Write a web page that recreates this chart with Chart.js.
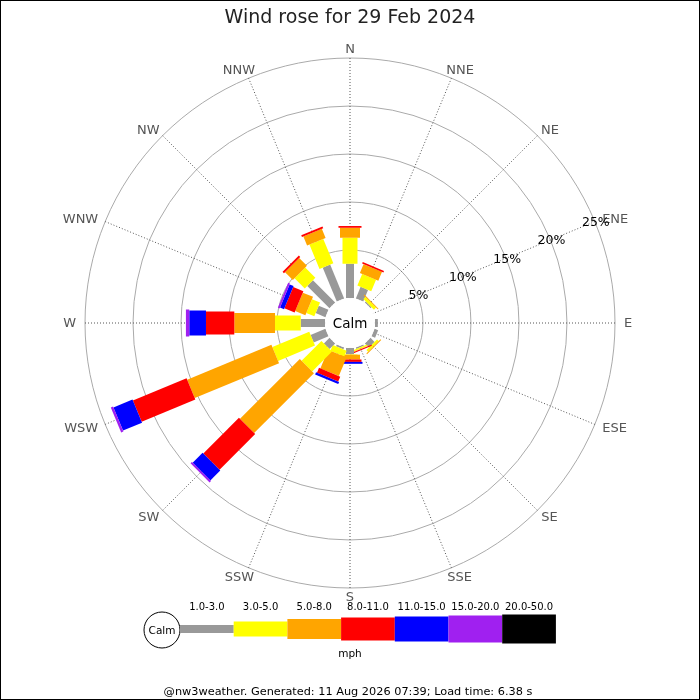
<!DOCTYPE html>
<html>
<head>
<meta charset="utf-8">
<title>Wind rose</title>
<script src="https://cdn.jsdelivr.net/npm/chart.js@4.4.1/dist/chart.umd.min.js"></script>
<style>
  body { margin: 0; background: #fff; }
  #wrap { width: 700px; height: 700px; }
</style>
</head>
<body>
<div id="wrap"><canvas id="rose" width="700" height="700"></canvas></div>
<script>
// directions, clockwise from north
var directions = ['N','NNE','NE','ENE','E','ESE','SE','SSE','S','SSW','SW','WSW','W','WNW','NW','NNW'];
var speedBands = ['1.0-3.0','3.0-5.0','5.0-8.0','8.0-11.0','11.0-15.0','15.0-20.0','20.0-50.0'];

// % of the day per direction, one array per speed band (mph)
var band1to3   = [3.57,1.30,0.15,0,0.30,0.40,0.60,0.15,0.65,0.20,0.83,1.67,2.53,1.10,3.28,3.81];
var band3to5   = [2.71,1.30,0.30,0,0,0,0.25,0.15,0.05,0.65,2.92,4.16,2.68,0.90,1.50,2.75];
var band5to8   = [1.04,1.00,0.10,0,0,0,0.10,0.05,0.50,2.10,8.81,9.50,4.24,1.15,1.15,1.02];
var band8to11  = [0.18,0.17,0,0,0,0,0,0.10,0.25,0.55,5.25,6.05,2.95,1.15,0.20,0.20];
var band11to15 = [0,0,0,0,0,0,0,0,0.20,0.25,1.47,2.15,1.74,0.45,0,0];
var band15to20 = [0,0,0,0,0,0,0,0,0,0,0.20,0.25,0.35,0.20,0,0];
var band20to50 = [0,0,0,0,0,0,0,0,0,0,0,0,0,0,0,0];

var ringTicks = [5,10,15,20,25];

// look
var bandColors = ['#999999','#ffff00','#ffa500','#ff0000','#0000ff','#a020f0','#000000'];
var bandThick  = [8,15,20,23,25,27,29];
var FONT = 'DejaVu Sans';

Chart.defaults.font.family = FONT;

/***** bars, calm disc, labels *****/
var rosePlugin = {
    id: 'rosePlugin',
    afterDatasetsDraw: function(chart){
        var r = chart.scales.r;
        var ctx = chart.ctx;
        for (var i = 0; i < directions.length; i++) {
            var ang = r.getIndexAngle(i) - Math.PI / 2;
            var cum = 0;
            chart.data.datasets.forEach(function(ds, k){
                var v = ds.data[i];
                if (!v) { return; }
                var d0 = r.getDistanceFromCenterForValue(cum);
                cum += v;
                var d1 = r.getDistanceFromCenterForValue(cum);
                ctx.save();
                ctx.translate(r.xCenter, r.yCenter);
                ctx.rotate(ang);
                ctx.fillStyle = bandColors[k];
                ctx.fillRect(d0, -bandThick[k] / 2, d1 - d0, bandThick[k]);
                ctx.restore();
            });
        }
        // calm disc
        var rc = r.getDistanceFromCenterForValue(0);
        ctx.save();
        ctx.beginPath();
        ctx.arc(r.xCenter, r.yCenter, rc, 0, Math.PI * 2);
        ctx.fillStyle = '#ffffff';
        ctx.fill();
        ctx.fillStyle = '#000';
        ctx.font = '13.5px "' + FONT + '"';
        ctx.textAlign = 'center';
        ctx.textBaseline = 'middle';
        ctx.fillText('Calm', r.xCenter, r.yCenter + 1);
        ctx.restore();
    },
    afterDraw: function(chart){
        var r = chart.scales.r;
        var ctx = chart.ctx;
        ctx.save();
        ctx.textAlign = 'center';
        ctx.textBaseline = 'middle';

        // direction names
        ctx.font = '13px "' + FONT + '"';
        ctx.fillStyle = '#555555';
        directions.forEach(function(name, i){
            var p = r.getPointPosition(i, r.drawingArea + 9);
            var w = ctx.measureText(name).width;
            var th = r.getIndexAngle(i);
            ctx.fillText(name, p.x + Math.sin(th) * w / 2, p.y + 1);
        });

        // ring labels along ENE
        ctx.font = '12.5px "' + FONT + '"';
        ctx.fillStyle = '#000';
        ringTicks.forEach(function(v){
            var p = r.getPointPositionForValue(3, v);
            ctx.fillText(v + '%', p.x + 1, p.y + 1);
        });

        // legend
        var lx = 180, ly = 629, seg = 53.7;
        ctx.beginPath();
        ctx.arc(162, 630, 18, 0, Math.PI * 2);
        ctx.fillStyle = '#fff';
        ctx.fill();
        ctx.strokeStyle = '#000';
        ctx.lineWidth = 1;
        ctx.stroke();
        ctx.fillStyle = '#000';
        ctx.font = '10.5px "' + FONT + '"';
        ctx.fillText('Calm', 162, 631);
        ctx.font = '10px "' + FONT + '"';
        speedBands.forEach(function(lbl, k){
            var x0 = lx + k * seg;
            ctx.fillStyle = bandColors[k];
            ctx.fillRect(x0, ly - bandThick[k] / 2, seg, bandThick[k]);
            ctx.fillStyle = '#000';
            ctx.fillText(lbl, x0 + seg / 2, 607);
        });
        ctx.font = '10.5px "' + FONT + '"';
        ctx.fillText('mph', 350, 654);

        // footer
        ctx.font = '11.3px "' + FONT + '"';
        ctx.fillText('@nw3weather. Generated: 11 Aug 2026 07:39; Load time: 6.38 s', 348, 692);

        // frame
        ctx.strokeStyle = '#000';
        ctx.lineWidth = 1;
        ctx.strokeRect(0.5, 0.5, 699, 699);
        ctx.restore();
    }
};

var bandData = [band1to3, band3to5, band5to8, band8to11, band11to15, band15to20, band20to50];

new Chart(document.getElementById('rose'), {
    type: 'radar',
    data: {
        labels: directions,
        datasets: bandData.map(function(arr, k){
            return {
                label: speedBands[k],
                data: arr,
                showLine: false,
                fill: false,
                pointRadius: 0,
                borderWidth: 0,
                backgroundColor: bandColors[k]
            };
        })
    },
    options: {
        responsive: false,
        animation: false,
        events: [],
        layout: { padding: { left: 0, right: 0, top: 0, bottom: 112 } },
        plugins: {
            legend: { display: false },
            tooltip: { enabled: false },
            title: {
                display: true,
                text: 'Wind rose for 29 Feb 2024',
                color: '#222',
                font: { family: FONT, size: 19, weight: 'normal' },
                padding: { top: 7, bottom: 28.2 }
            }
        },
        scales: {
            r: {
                min: -2.6,
                max: 25,
                afterBuildTicks: function(s){
                    s.ticks = ringTicks.map(function(v){ return { value: v }; });
                },
                ticks: { display: false },
                grid: { circular: true, color: '#aaaaaa', lineWidth: 1 },
                angleLines: { display: true, color: '#555555', lineWidth: 1, borderDash: [1, 2] },
                pointLabels: { display: false }
            }
        }
    },
    plugins: [rosePlugin]
});
</script>
</body>
</html>
